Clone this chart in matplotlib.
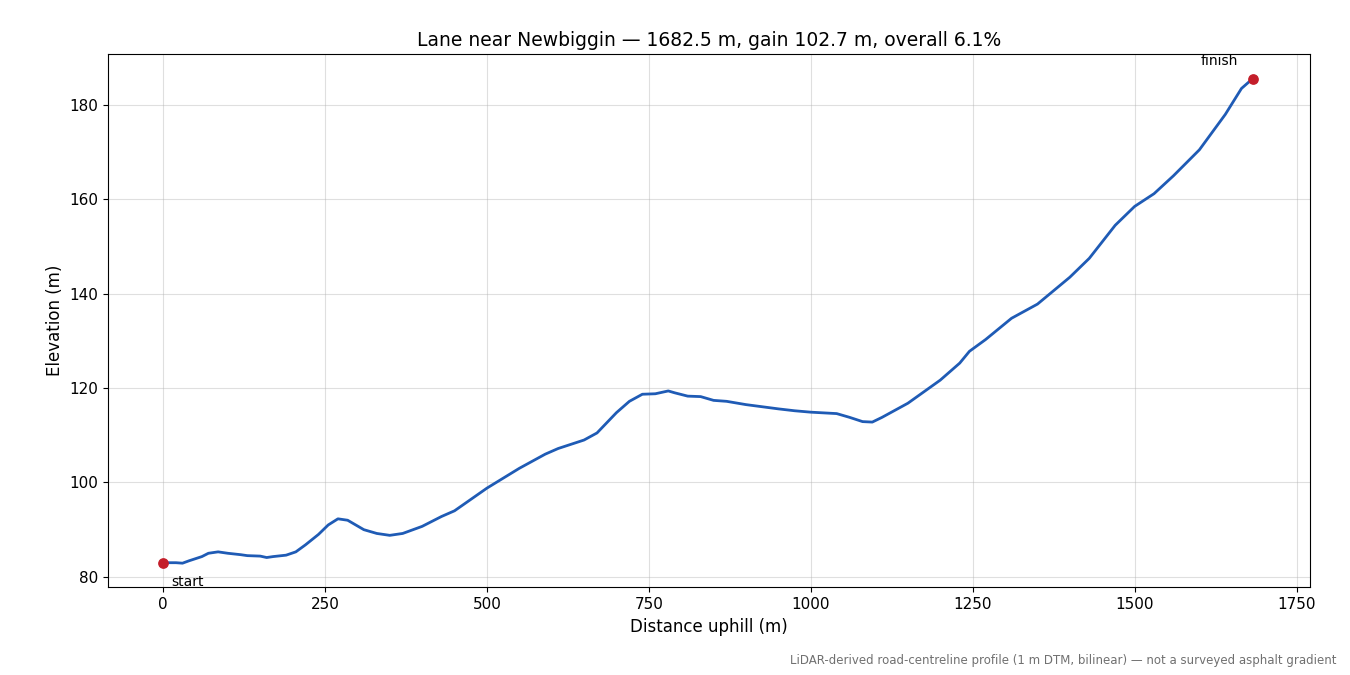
import numpy as np
import matplotlib.pyplot as plt

# profile (distance m, elevation m)
distance = [0, 20, 30, 40, 60, 70, 85, 100, 120, 130, 150, 160, 170, 190, 205, 220, 240, 255,
            270, 285, 295, 310, 330, 350, 370, 400, 430, 450, 500, 550, 590, 610, 650, 670,
            700, 720, 740, 760, 780, 790, 810, 830, 850, 870, 900, 950, 975, 1000, 1040,
            1060, 1080, 1095, 1110, 1150, 1200, 1230, 1245, 1270, 1310, 1350, 1400, 1430,
            1470, 1500, 1530, 1560, 1600, 1640, 1665, 1682.5]
elevation = [83.0, 83.0, 82.9, 83.4, 84.3, 85.0, 85.3, 85.0, 84.7, 84.5, 84.4, 84.1, 84.3, 84.6,
             85.3, 86.8, 89.0, 91.0, 92.3, 92.0, 91.2, 90.0, 89.2, 88.8, 89.2, 90.7, 92.8, 94.0,
             98.8, 103.0, 106.0, 107.2, 109.0, 110.5, 114.8, 117.2, 118.7, 118.8, 119.4, 119.0,
             118.3, 118.2, 117.4, 117.2, 116.5, 115.6, 115.2, 114.9, 114.6, 113.8, 112.9, 112.8,
             113.8, 116.8, 121.7, 125.3, 127.8, 130.3, 134.8, 137.8, 143.5, 147.5, 154.5, 158.5,
             161.2, 165.0, 170.5, 178.0, 183.5, 185.6]

fig = plt.figure(figsize=(13.5, 6.75), dpi=100)
ax = fig.add_axes([0.08, 0.13, 0.89, 0.79])

ax.plot(distance, elevation, color='#1f5bb5', lw=2)
ax.scatter([distance[0], distance[-1]], [elevation[0], elevation[-1]], color='#c41e2a', s=45, zorder=3)
ax.annotate('start', (distance[0], elevation[0]), xytext=(6, -17), textcoords='offset points', fontsize=10)
ax.annotate('finish', (distance[-1], elevation[-1]), xytext=(-11, 10), textcoords='offset points',
            fontsize=10, ha='right')

ax.set_xlim(-85, 1770)
ax.set_ylim(77.8, 190.8)
ax.grid(True, alpha=0.4)
ax.tick_params(labelsize=11)
ax.set_xlabel('Distance uphill (m)', fontsize=12)
ax.set_ylabel('Elevation (m)', fontsize=12)
ax.set_title('Lane near Newbiggin — 1682.5 m, gain 102.7 m, overall 6.1%', fontsize=13.5)
fig.text(0.99, 0.012, 'LiDAR-derived road-centreline profile (1 m DTM, bilinear) — not a surveyed asphalt gradient',
         ha='right', va='bottom', fontsize=8.5, color='#707070')

fig.savefig('out.png', dpi=100)
